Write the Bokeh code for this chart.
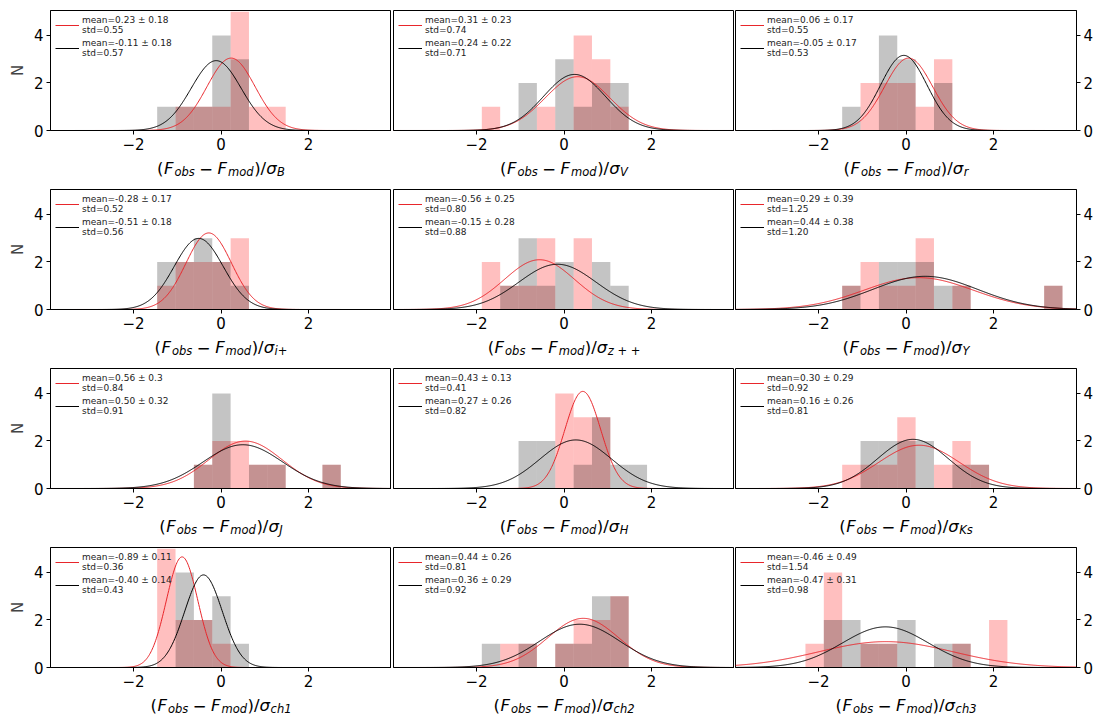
import numpy as np
from bokeh.plotting import figure
from bokeh.models import Range1d, FixedTicker, Legend, LegendItem, ColumnDataSource
from bokeh.core.properties import value
from bokeh.layouts import column, row
from bokeh.embed import file_html
from bokeh.resources import INLINE

# ---------------- data ----------------
bands = ["B", "V", "r", "i+", "z + +", "Y", "J", "H", "Ks", "ch1", "ch2", "ch3"]
bin_lefts = [-2.30, -1.88, -1.46, -1.04, -0.62, -0.20, 0.22, 0.64, 1.06, 1.48, 1.90, 2.32, 2.74, 3.16]
bin_width = 0.42
n_objects = 10

red_counts = [
    [0, 0, 0, 1, 1, 1, 5, 1, 1, 0, 0, 0, 0, 0],   # B
    [0, 1, 0, 0, 1, 0, 4, 3, 1, 0, 0, 0, 0, 0],   # V
    [0, 0, 0, 2, 2, 2, 1, 3, 0, 0, 0, 0, 0, 0],   # r
    [0, 0, 1, 2, 2, 2, 3, 0, 0, 0, 0, 0, 0, 0],   # i+
    [0, 2, 1, 1, 3, 0, 3, 0, 0, 0, 0, 0, 0, 0],   # z++
    [0, 0, 1, 2, 1, 1, 3, 0, 1, 0, 0, 0, 0, 1],   # Y
    [0, 0, 0, 0, 1, 2, 2, 1, 1, 0, 0, 1, 0, 0],   # J
    [0, 0, 0, 0, 0, 4, 3, 3, 0, 0, 0, 0, 0, 0],   # H
    [0, 0, 1, 1, 1, 3, 0, 1, 2, 1, 0, 0, 0, 0],   # Ks
    [0, 0, 5, 2, 2, 1, 0, 0, 0, 0, 0, 0, 0, 0],   # ch1
    [0, 0, 1, 1, 0, 1, 2, 2, 3, 0, 0, 0, 0, 0],   # ch2
    [1, 4, 0, 1, 1, 0, 0, 0, 1, 0, 2, 0, 0, 0],   # ch3
]
black_counts = [
    [0, 0, 1, 1, 1, 4, 3, 0, 0, 0, 0, 0, 0, 0],   # B
    [0, 0, 0, 2, 0, 3, 1, 2, 2, 0, 0, 0, 0, 0],   # V
    [0, 0, 1, 0, 4, 3, 0, 2, 0, 0, 0, 0, 0, 0],   # r
    [0, 0, 2, 2, 3, 2, 1, 0, 0, 0, 0, 0, 0, 0],   # i+
    [0, 0, 1, 3, 1, 2, 0, 2, 1, 0, 0, 0, 0, 0],   # z++
    [0, 0, 1, 0, 2, 2, 2, 1, 1, 0, 0, 0, 0, 1],   # Y
    [0, 0, 0, 0, 1, 4, 0, 1, 1, 0, 0, 1, 0, 0],   # J
    [0, 0, 0, 2, 2, 0, 1, 3, 1, 1, 0, 0, 0, 0],   # H
    [0, 0, 0, 2, 2, 2, 2, 0, 1, 1, 0, 0, 0, 0],   # Ks
    [0, 0, 0, 4, 2, 3, 1, 0, 0, 0, 0, 0, 0, 0],   # ch1
    [0, 1, 0, 1, 0, 1, 1, 3, 3, 0, 0, 0, 0, 0],   # ch2
    [0, 2, 2, 1, 1, 2, 0, 1, 1, 0, 0, 0, 0, 0],   # ch3
]

red_mean = [0.23, 0.31, 0.06, -0.28, -0.56, 0.29, 0.56, 0.43, 0.30, -0.89, 0.44, -0.46]
red_err = ["0.18", "0.23", "0.17", "0.17", "0.25", "0.39", "0.3", "0.13", "0.29", "0.11", "0.26", "0.49"]
red_std = [0.55, 0.74, 0.55, 0.52, 0.80, 1.25, 0.84, 0.41, 0.92, 0.36, 0.81, 1.54]
black_mean = [-0.11, 0.24, -0.05, -0.51, -0.15, 0.44, 0.50, 0.27, 0.16, -0.40, 0.36, -0.47]
black_err = ["0.18", "0.22", "0.17", "0.18", "0.28", "0.38", "0.32", "0.26", "0.26", "0.14", "0.29", "0.31"]
black_std = [0.57, 0.71, 0.53, 0.56, 0.88, 1.20, 0.91, 0.82, 0.81, 0.43, 0.92, 0.98]

x_ticks = [-2, 0, 2]
y_ticks = [0, 2, 4]

# ---------------- style / layout ----------------
FONT = "DejaVu Sans"
FW, FH = 341, 120
XR = (-3.9, 3.9)
YR = (0, 5.05)
PINK = "#ff0000"
GRAY = "#000000"
RED_LINE = "#e8262b"

BORDER_L = [50, 2, 1]          # left border of each column figure
BORDER_R = [0, 0, 20]          # right border of each column figure
TOTAL_W = sum(BORDER_L) + sum(BORDER_R) + 3 * FW
FRAME_LEFT = []
_acc = 0
for c in range(3):
    _acc += BORDER_L[c]
    FRAME_LEFT.append(_acc)
    _acc += FW + BORDER_R[c]

TICK_AREA = 26                  # bottom border of panel figures (tick labels)
STRIP_H = [32, 32, 32, 27]      # strips that carry the x-axis labels
TOP_B = [10, 1, 1, 1]
BASE_BELOW_AXIS = 38            # baseline of x-label below the x axis line

CW = {'(': 0.390, ')': 0.390, '/': 0.337, 'F': 0.575, 'o': 0.612, 'b': 0.635, 's': 0.521,
      'm': 0.974, 'd': 0.635, '−': 0.838, ' ': 0.318, 'σ': 0.634, 'B': 0.686, 'V': 0.684,
      'r': 0.411, 'i': 0.278, '+': 0.838, 'z': 0.525, 'Y': 0.611, 'J': 0.295, 'H': 0.752,
      'K': 0.656, 'c': 0.550, 'h': 0.634, '1': 0.636, '2': 0.636, '3': 0.636}


def tw(s, size):
    return sum(CW.get(ch, 0.6) for ch in s) * size


def style_axis(ax, ticks):
    ax.ticker = FixedTicker(ticks=ticks)
    ax.major_label_overrides = {t: (f"−{abs(t)}" if t < 0 else str(t)) for t in ticks}
    ax.major_label_text_font = FONT
    ax.major_label_text_font_size = "15px"
    ax.major_label_text_color = "black"
    ax.major_label_standoff = 3
    ax.major_tick_out = 4
    ax.major_tick_in = 0
    ax.minor_tick_out = 0
    ax.minor_tick_in = 0
    ax.axis_line_color = "black"
    ax.major_tick_line_color = "black"


xs = np.linspace(XR[0], XR[1], 500)
bin_rights = [b + bin_width for b in bin_lefts]


def make_panel(i):
    r, c = divmod(i, 3)
    yloc = "left" if c == 0 else ("right" if c == 2 else None)
    p = figure(frame_width=FW, frame_height=FH,
               x_range=Range1d(*XR), y_range=Range1d(*YR),
               output_backend="svg", toolbar_location=None, y_axis_location=yloc,
               min_border_left=BORDER_L[c], min_border_right=BORDER_R[c],
               min_border_top=TOP_B[r], min_border_bottom=TICK_AREA,
               background_fill_color="white", border_fill_color="white")
    p.grid.visible = False
    p.outline_line_color = "black"
    p.outline_line_alpha = 1.0
    p.outline_line_width = 1

    style_axis(p.xaxis[0], x_ticks)
    if yloc is not None:
        ya = p.yaxis[0]
        style_axis(ya, y_ticks)
        if c == 0:
            ya.axis_label = "N"
            ya.axis_label_text_font = FONT
            ya.axis_label_text_font_size = "15px"
            ya.axis_label_text_font_style = "normal"
            ya.axis_label_standoff = 4

    p.quad(left=bin_lefts, right=bin_rights, bottom=0, top=red_counts[i],
           fill_color=PINK, fill_alpha=0.25, line_color=None)
    p.quad(left=bin_lefts, right=bin_rights, bottom=0, top=black_counts[i],
           fill_color=GRAY, fill_alpha=0.23, line_color=None)

    amp = n_objects * bin_width / np.sqrt(2 * np.pi)
    yr = amp / red_std[i] * np.exp(-0.5 * ((xs - red_mean[i]) / red_std[i]) ** 2)
    yb = amp / black_std[i] * np.exp(-0.5 * ((xs - black_mean[i]) / black_std[i]) ** 2)
    lr = p.line(xs, yr, line_color=RED_LINE, line_width=1)
    lb = p.line(xs, yb, line_color="black", line_width=1)

    items = [
        LegendItem(label=f"mean={red_mean[i]:.2f} ± {red_err[i]}\nstd={red_std[i]:.2f}", renderers=[lr]),
        LegendItem(label=f"mean={black_mean[i]:.2f} ± {black_err[i]}\nstd={black_std[i]:.2f}", renderers=[lb]),
    ]
    leg = Legend(items=items, location="top_left", margin=0, padding=5, spacing=3,
                 label_text_font=FONT, label_text_font_size="9px", label_text_color="#222222",
                 label_text_line_height=1.05, label_standoff=3, glyph_width=24, glyph_height=18,
                 label_height=18, background_fill_alpha=0, border_line_alpha=0)
    p.add_layout(leg)
    return p


def make_strip(r):
    h = STRIP_H[r]
    s = figure(width=TOTAL_W, height=h, x_range=Range1d(0, TOTAL_W), y_range=Range1d(0, h),
               output_backend="svg", toolbar_location=None,
               x_axis_location=None, y_axis_location=None, min_border=0,
               outline_line_color=None, background_fill_color="white", border_fill_color="white")
    s.grid.visible = False
    MAIN, SUB = 16.5, 11.5
    base = h - (BASE_BELOW_AXIS - TICK_AREA)
    groups = {("n", MAIN): dict(x=[], y=[], t=[]), ("i", MAIN): dict(x=[], y=[], t=[]),
              ("i", SUB): dict(x=[], y=[], t=[])}
    for c in range(3):
        band = bands[3 * r + c]
        segs = [("(", MAIN, "n", 0.5), ("F", MAIN, "i", 1.0), ("obs", SUB, "i", 4.5),
                ("−", MAIN, "n", 4.5), ("F", MAIN, "i", 1.0), ("mod", SUB, "i", 0.5),
                (")", MAIN, "n", 0), ("/", MAIN, "n", 0), ("σ", MAIN, "i", 0.5),
                (band, SUB, "i", 0)]
        total = sum(tw(t, sz) + g for t, sz, st, g in segs)
        x = FRAME_LEFT[c] + FW / 2.0 - total / 2.0
        for t, sz, st, g in segs:
            gdict = groups[(st, sz)]
            gdict["x"].append(x)
            gdict["y"].append(base - (3.5 if sz == SUB else 0))
            gdict["t"].append(t)
            x += tw(t, sz) + g
    for (st, sz), gdict in groups.items():
        s.text(x="x", y="y", text="t", source=ColumnDataSource(gdict),
               text_font=value(FONT), text_font_size=value(f"{sz}px"),
               text_font_style="italic" if st == "i" else "normal",
               text_color="black", text_align="left", text_baseline="alphabetic")
    return s


panels = [make_panel(i) for i in range(12)]
rows = []
for r in range(4):
    rows.append(row(*panels[3 * r:3 * r + 3]))
    rows.append(make_strip(r))
layout = column(*rows)

open("out.html", "w").write(file_html(layout, INLINE))
